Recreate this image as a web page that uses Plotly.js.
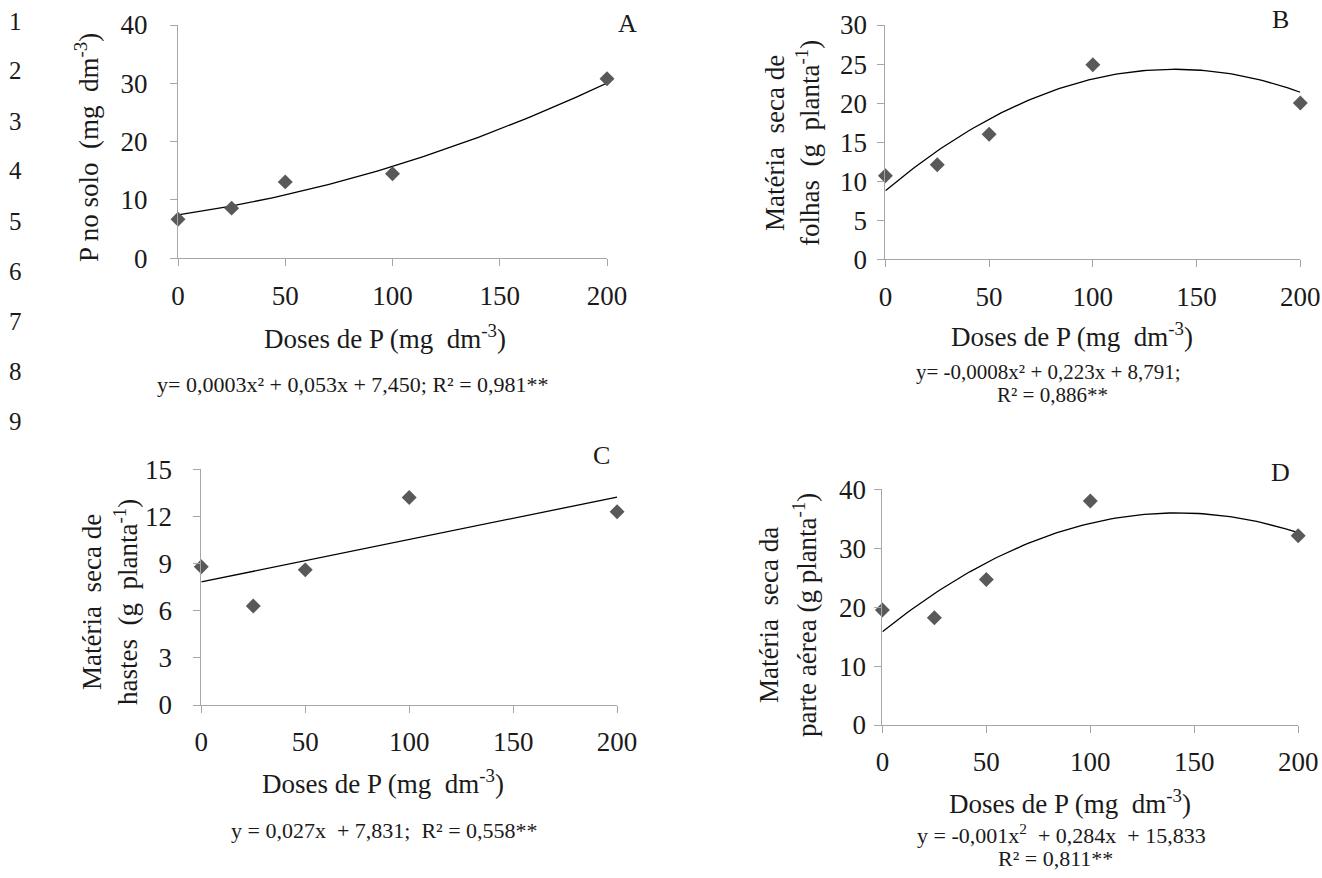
<!DOCTYPE html>
<html>
<head>
<meta charset="utf-8">
<script src="https://cdn.plot.ly/plotly-3.0.1.min.js"></script>
<style>html,body{margin:0;padding:0;background:#fff;}#chart{width:1322px;height:878px;}</style>
</head>
<body>
<div id="chart"></div>
<script>
// ---- data ----
var doses = [0, 25, 50, 100, 200];
var xTicks = [0, 50, 100, 150, 200];
var pSolo = [6.7, 8.6, 13.1, 14.5, 30.8];          // A
var msFolhas = [10.7, 12.1, 16.0, 24.9, 20.0];     // B
var msHastes = [8.8, 6.3, 8.6, 13.2, 12.3];        // C
var msParteAerea = [19.5, 18.2, 24.7, 38.0, 32.1]; // D
// regression coefficients printed on the figure [a2, a1, a0]
var coefA = [0.0003, 0.053, 7.450];
var coefB = [-0.0008, 0.223, 8.791];
var coefC = [0, 0.027, 7.831];
var coefD = [-0.001, 0.284, 15.833];
var panelLetters = ['A', 'B', 'C', 'D'];
var lineNumbers = ['1','2','3','4','5','6','7','8','9'];

var W = 1322, H = 878;
function px(x){ return x / W; }
function py(y){ return 1 - y / H; }

var fitX = [];
for (var i = 0; i <= 200; i += 2) fitX.push(i);
function fitY(c){ return fitX.map(function(x){ return c[0]*x*x + c[1]*x + c[2]; }); }

var FONT = 'Times New Roman, Liberation Serif, Tinos, DejaVu Serif, serif';
var markerColor = '#595959';
var axisColor = '#a6a6a6';
var TXT = '#1a1a1a';

function pts(y, xa, ya){
  return {x: doses, y: y, xaxis: xa, yaxis: ya, type: 'scatter', mode: 'markers',
    marker: {symbol: 'diamond', size: 11.5, color: markerColor}, cliponaxis: false, hoverinfo: 'skip'};
}
function fit(c, xa, ya){
  return {x: fitX, y: fitY(c), xaxis: xa, yaxis: ya, type: 'scatter', mode: 'lines',
    line: {color: '#000', width: 1.3}, cliponaxis: false, hoverinfo: 'skip'};
}

var data = [
  fit(coefA, 'x', 'y'), pts(pSolo, 'x', 'y'),
  fit(coefB, 'x2', 'y2'), pts(msFolhas, 'x2', 'y2'),
  fit(coefC, 'x3', 'y3'), pts(msHastes, 'x3', 'y3'),
  fit(coefD, 'x4', 'y4'), pts(msParteAerea, 'x4', 'y4')
];

function xax(x0, x1, anchor){
  return {domain: [px(x0), px(x1)], anchor: anchor, range: [0, 200], tickvals: xTicks,
    showline: true, linecolor: axisColor, linewidth: 1, ticks: 'outside', ticklen: 7,
    tickcolor: axisColor, showgrid: false, zeroline: false, ticklabelstandoff: 6,
    tickfont: {family: FONT, size: 27, color: TXT}, fixedrange: true};
}
function yax(y0, y1, anchor, max, dt, stand){
  return {domain: [py(y1), py(y0)], anchor: anchor, range: [0, max], dtick: dt,
    showline: true, linecolor: axisColor, linewidth: 1, ticks: 'outside', ticklen: 7,
    tickcolor: axisColor, showgrid: false, zeroline: false, ticklabelstandoff: stand,
    tickfont: {family: FONT, size: 27, color: TXT}, fixedrange: true};
}

var ann = [];
function txt(x, y, t, size, angle, xanchor){
  ann.push({xref: 'paper', yref: 'paper', x: px(x), y: py(y), text: t, showarrow: false,
    xanchor: xanchor || 'center', yanchor: 'middle', textangle: angle || 0,
    font: {family: FONT, size: size, color: TXT}});
}
// line numbers
var lnY = [21, 71, 121, 171, 221, 271, 321, 371, 421];
lineNumbers.forEach(function(n, i){ txt(15, lnY[i], n, 25); });
// panel letters
txt(627, 23, panelLetters[0], 26);
txt(1280, 20, panelLetters[1], 26);
txt(601, 455, panelLetters[2], 26);
txt(1280, 472, panelLetters[3], 26);
// x titles
var xTitle = 'Doses de P (mg  dm<sup>-3</sup>)';
txt(385, 337, xTitle, 27);
txt(1072, 335, xTitle, 27);
txt(383, 782, xTitle, 27);
txt(1070, 802, xTitle, 27);
// y titles
txt(87, 148, 'P no solo  (mg  dm<sup>-3</sup>)', 27, -90);
txt(775, 143, 'Matéria  seca de', 27, -90);
txt(808, 143, 'folhas  (g  planta<sup>-1</sup>)', 27, -90);
txt(92, 602, 'Matéria  seca de', 27, -90);
txt(126, 602, 'hastes  (g  planta<sup>-1</sup>)', 27, -90);
txt(769, 615, 'Matéria  seca da', 27, -90);
txt(805, 615, 'parte aérea (g planta<sup>-1</sup>)', 27, -90);
// equations
var EQ = 22;
txt(353, 385, 'y= 0,0003x² + 0,053x + 7,450; R² = 0,981**', EQ);
txt(1048, 372, 'y= -0,0008x² + 0,223x + 8,791;', 21);
txt(1052, 395, 'R² = 0,886**', 21);
txt(384, 830, 'y = 0,027x  + 7,831;  R² = 0,558**', EQ);
txt(1061, 834, 'y = -0,001x<sup>2</sup>  + 0,284x  + 15,833', EQ);
txt(1055, 858, 'R² = 0,811**', EQ);

var layout = {
  width: W, height: H, margin: {l: 0, r: 0, t: 0, b: 0},
  paper_bgcolor: '#fff', plot_bgcolor: 'rgba(0,0,0,0)', showlegend: false,
  font: {family: FONT, color: TXT},
  xaxis: xax(178, 607, 'y'),
  yaxis: yax(25, 258.3, 'x', 40, 10, 17),
  xaxis2: xax(885.4, 1300.3, 'y2'),
  yaxis2: yax(25, 259.3, 'x2', 30, 5, 5),
  xaxis3: xax(201.3, 617.1, 'y3'),
  yaxis3: yax(469.3, 705, 'x3', 15, 3, 16),
  xaxis4: xax(882.4, 1298.2, 'y4'),
  yaxis4: yax(489.3, 725, 'x4', 40, 10, 3),
  annotations: ann
};

Plotly.newPlot('chart', data, layout, {displayModeBar: false, staticPlot: true});
</script>
</body>
</html>
